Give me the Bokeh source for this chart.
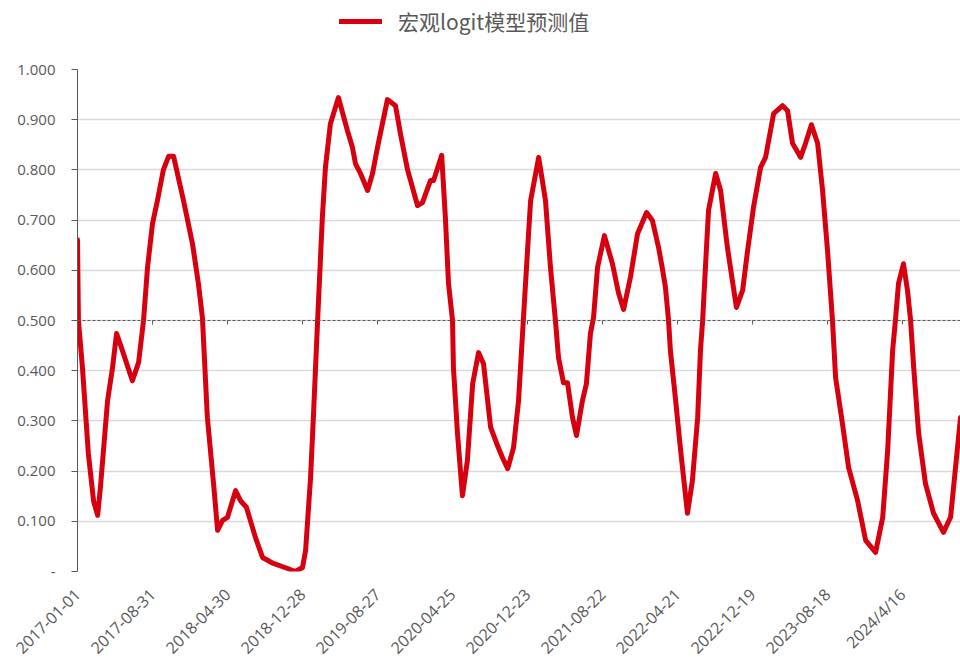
import pandas as pd
from bokeh.plotting import figure
from bokeh.layouts import column
from bokeh.models import (Range1d, FixedTicker, NumeralTickFormatter, Span,
                          Legend, LegendItem, ColumnDataSource)
from bokeh.embed import file_html
from bokeh.resources import INLINE

# ---------------- data ----------------
dates = [
    "2017-01-01", "2017-01-04", "2017-01-17", "2017-02-05", "2017-02-22", "2017-03-07",
    "2017-03-16", "2017-04-08", "2017-04-24", "2017-05-07", "2017-05-26", "2017-06-27",
    "2017-07-17", "2017-08-02", "2017-08-15", "2017-08-31", "2017-09-16", "2017-10-05",
    "2017-10-22", "2017-11-07", "2017-12-09", "2018-01-07", "2018-01-26", "2018-02-08",
    "2018-02-24", "2018-03-16", "2018-03-29", "2018-04-14", "2018-04-30", "2018-05-26",
    "2018-06-11", "2018-06-30", "2018-07-29", "2018-08-21", "2018-09-25", "2018-11-10",
    "2018-12-05", "2018-12-28", "2019-01-07", "2019-01-23", "2019-02-01", "2019-02-14",
    "2019-03-02", "2019-03-12", "2019-03-28", "2019-04-23", "2019-05-22", "2019-06-07",
    "2019-06-17", "2019-07-03", "2019-07-26", "2019-08-11", "2019-08-27", "2019-09-28",
    "2019-10-24", "2019-11-09", "2019-12-02", "2020-01-03", "2020-01-19", "2020-02-14",
    "2020-02-24", "2020-03-21", "2020-04-02", "2020-04-12", "2020-04-25", "2020-04-28",
    "2020-05-11", "2020-05-27", "2020-06-12", "2020-06-29", "2020-07-18", "2020-08-03",
    "2020-08-26", "2020-09-17", "2020-10-03", "2020-10-20", "2020-11-08", "2020-11-24",
    "2020-12-10", "2020-12-23", "2021-01-02", "2021-01-28", "2021-02-19", "2021-03-07",
    "2021-03-23", "2021-04-02", "2021-04-18", "2021-05-01", "2021-05-17", "2021-05-30",
    "2021-06-18", "2021-07-01", "2021-07-14", "2021-07-24", "2021-08-06", "2021-08-28",
    "2021-09-23", "2021-10-13", "2021-10-29", "2021-11-20", "2021-12-13", "2022-01-11",
    "2022-01-30", "2022-02-19", "2022-03-04", "2022-03-13", "2022-03-23", "2022-03-29",
    "2022-04-15", "2022-05-01", "2022-05-23", "2022-06-08", "2022-06-25", "2022-07-04",
    "2022-07-11", "2022-07-20", "2022-07-30", "2022-08-22", "2022-09-07", "2022-09-29",
    "2022-10-28", "2022-11-17", "2022-12-03", "2022-12-22", "2023-01-14", "2023-01-30",
    "2023-02-25", "2023-03-26", "2023-04-11", "2023-04-27", "2023-05-23", "2023-06-08",
    "2023-06-27", "2023-07-17", "2023-08-02", "2023-08-18", "2023-09-03", "2023-09-13",
    "2023-10-05", "2023-10-25", "2023-11-23", "2023-12-19", "2024-01-20", "2024-02-12",
    "2024-02-28", "2024-03-15", "2024-03-24", "2024-04-03", "2024-04-19", "2024-05-02",
    "2024-05-12", "2024-05-22", "2024-06-07", "2024-06-29", "2024-07-25", "2024-08-26",
    "2024-09-18", "2024-10-20",
]
logit_values = [
    0.661, 0.500, 0.406, 0.235, 0.140, 0.112,
    0.168, 0.340, 0.406, 0.474, 0.440, 0.380,
    0.416, 0.500, 0.606, 0.693, 0.739, 0.800,
    0.827, 0.827, 0.739, 0.653, 0.574, 0.506,
    0.307, 0.175, 0.082, 0.102, 0.108, 0.161,
    0.141, 0.128, 0.068, 0.028, 0.016, 0.006,
    0.000, 0.008, 0.042, 0.187, 0.307, 0.490,
    0.705, 0.805, 0.892, 0.944, 0.878, 0.845,
    0.812, 0.793, 0.759, 0.793, 0.845, 0.940,
    0.928, 0.872, 0.800, 0.729, 0.735, 0.779,
    0.779, 0.829, 0.705, 0.574, 0.500, 0.406,
    0.275, 0.151, 0.221, 0.374, 0.436, 0.414,
    0.287, 0.251, 0.227, 0.205, 0.247, 0.340,
    0.506, 0.639, 0.739, 0.825, 0.739, 0.606,
    0.500, 0.426, 0.376, 0.376, 0.307, 0.271,
    0.340, 0.374, 0.474, 0.506, 0.606, 0.669,
    0.613, 0.554, 0.522, 0.586, 0.673, 0.715,
    0.699, 0.645, 0.600, 0.566, 0.500, 0.440,
    0.340, 0.241, 0.116, 0.181, 0.307, 0.440,
    0.500, 0.606, 0.719, 0.793, 0.759, 0.645,
    0.526, 0.560, 0.639, 0.725, 0.805, 0.825,
    0.912, 0.928, 0.918, 0.853, 0.825, 0.853,
    0.890, 0.853, 0.759, 0.639, 0.500, 0.386,
    0.295, 0.207, 0.141, 0.062, 0.038, 0.108,
    0.241, 0.440, 0.500, 0.574, 0.613, 0.560,
    0.500, 0.406, 0.275, 0.175, 0.116, 0.078,
    0.108, 0.307,
]
series_name = "宏观logit模型预测值"
tick_dates = ["2017-01-01", "2017-08-31", "2018-04-30", "2018-12-28", "2019-08-27",
              "2020-04-25", "2020-12-23", "2021-08-22", "2022-04-21", "2022-12-19",
              "2023-08-18", "2024-04-16"]
tick_labels = ["2017-01-01", "2017-08-31", "2018-04-30", "2018-12-28", "2019-08-27",
               "2020-04-25", "2020-12-23", "2021-08-22", "2022-04-21", "2022-12-19",
               "2023-08-18", "2024/4/16"]
y_ticks = [0, 0.1, 0.2, 0.3, 0.4, 0.5, 0.6, 0.7, 0.8, 0.9, 1.0]
threshold = 0.5
x_start, x_end = "2017-01-01", "2024-10-20"


def to_ms(seq):
    idx = pd.to_datetime(list(seq))
    return [float((t - pd.Timestamp("1970-01-01")) // pd.Timedelta(milliseconds=1)) for t in idx]


x_ms = to_ms(dates)
tick_ms = to_ms(tick_dates)
start_ms, end_ms = to_ms([x_start, x_end])

LINE_RED = "#D7000F"
GREY_TXT = "#595959"
LEGEND_H = 36

# ---------------- legend strip (own small figure, so nothing is clipped) ----------------
leg_fig = figure(width=960, height=LEGEND_H, output_backend="svg", toolbar_location=None,
                 x_range=Range1d(0, 1), y_range=Range1d(0, 1),
                 x_axis_location=None, y_axis_location=None,
                 min_border_left=0, min_border_right=0, min_border_top=0, min_border_bottom=0)
leg_fig.outline_line_color = None
leg_fig.grid.visible = False
# placeholder renderer (lies outside the visible range) that only supplies the legend swatch
leg_r = leg_fig.line(x=[-5, -4], y=[-5, -4], line_color=LINE_RED, line_width=5,
                     line_cap="round")
legend = Legend(items=[LegendItem(label=series_name, renderers=[leg_r])],
                location=(262, 0), orientation="horizontal",
                glyph_width=43, glyph_height=26, label_standoff=16,
                padding=0, margin=0, spacing=0,
                border_line_color=None, background_fill_alpha=0,
                label_text_font="Noto Sans CJK SC", label_text_font_size="21px",
                label_text_color=GREY_TXT, label_height=26)
leg_fig.add_layout(legend, "center")

# ---------------- main chart ----------------
p = figure(width=960, height=669 - LEGEND_H, output_backend="svg", toolbar_location=None,
           x_range=Range1d(start_ms, end_ms), y_range=Range1d(0, 1.0),
           min_border_left=77, min_border_right=0, min_border_top=69 - LEGEND_H,
           min_border_bottom=98)
p.outline_line_color = None
p.background_fill_color = "white"
p.border_fill_color = "white"

# grid
p.xgrid.grid_line_color = None
p.ygrid.ticker = FixedTicker(ticks=y_ticks)
p.ygrid.grid_line_color = "#d9d9d9"
p.ygrid.grid_line_width = 1.6

# y axis
p.yaxis.ticker = FixedTicker(ticks=y_ticks)
p.yaxis.formatter = NumeralTickFormatter(format="0.000")
p.yaxis.major_label_overrides = {0: "-"}
p.yaxis.axis_line_color = GREY_TXT
p.yaxis.axis_line_width = 1
p.yaxis.major_tick_line_color = GREY_TXT
p.yaxis.major_tick_out = 6
p.yaxis.major_tick_in = 0
p.yaxis.minor_tick_line_color = None
p.yaxis.major_label_standoff = 16
p.yaxis.major_label_text_font = "Open Sans"
p.yaxis.major_label_text_font_size = "15px"
p.yaxis.major_label_text_color = GREY_TXT

# x axis
p.xaxis.ticker = FixedTicker(ticks=tick_ms)
p.xaxis.major_label_overrides = {t: lab for t, lab in zip(tick_ms, tick_labels)}
p.xaxis.major_label_orientation = 0.785398
p.xaxis.axis_line_color = None
p.xaxis.major_tick_line_color = None
p.xaxis.minor_tick_line_color = None
p.xaxis.major_label_standoff = 14
p.xaxis.major_label_text_font = "Open Sans"
p.xaxis.major_label_text_font_size = "16px"
p.xaxis.major_label_text_color = GREY_TXT

# threshold dashed line with small tick marks
p.add_layout(Span(location=threshold, dimension="width", line_color="#595959",
                  line_width=1, line_dash="3 2"))
tick_src = ColumnDataSource(dict(x=tick_ms, y0=[threshold] * len(tick_ms),
                                 y1=[threshold - 0.008] * len(tick_ms)))
p.segment(x0="x", y0="y0", x1="x", y1="y1", source=tick_src,
          line_color="#595959", line_width=1)

# series
src = ColumnDataSource(dict(x=x_ms, y=logit_values))
p.line("x", "y", source=src, line_color=LINE_RED, line_width=5,
       line_join="round", line_cap="round")

layout = column(leg_fig, p, spacing=0)
open("out.html", "w").write(file_html(layout, INLINE))
